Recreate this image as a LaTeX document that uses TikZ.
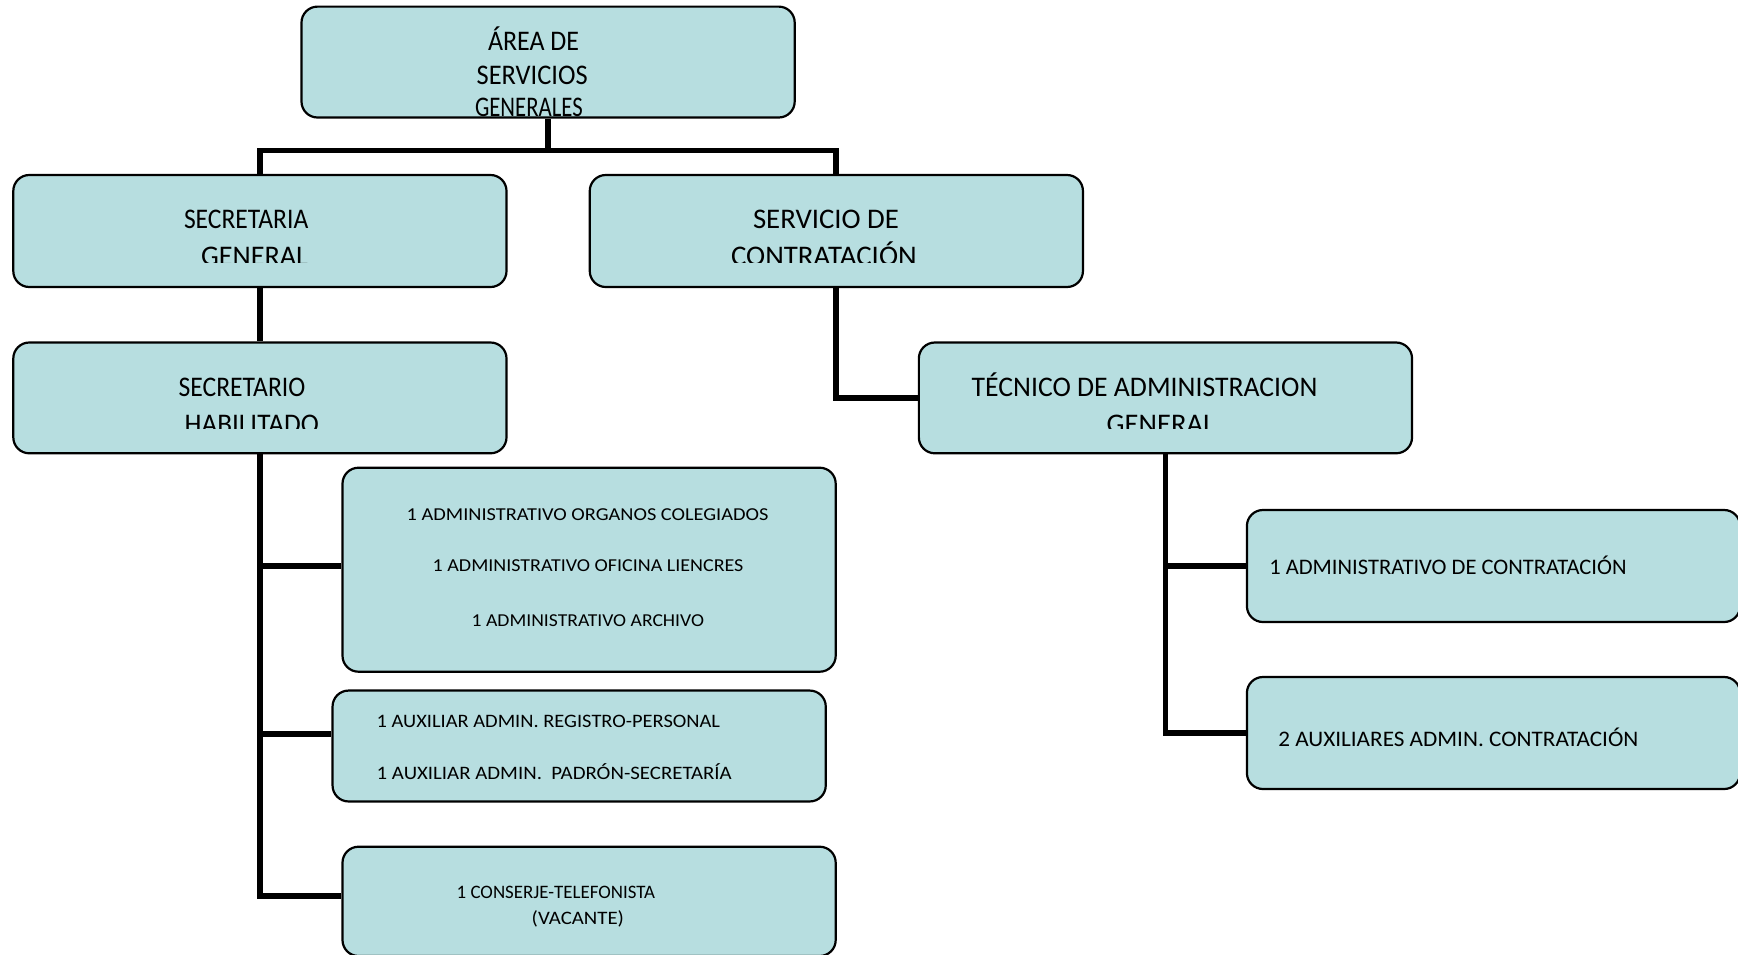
\documentclass[tikz,border=0pt]{standalone}
\usepackage{fontspec}
\setmainfont{Carlito}
\usepackage{graphicx}
\definecolor{boxfill}{RGB}{183,222,224}
\newcommand\hdrfont{\fontsize{14.2}{17}\selectfont}
\newcommand\smfont{\fontsize{9.1}{11}\selectfont}
\newcommand\mdfont{\fontsize{9.5}{11}\selectfont}
\newcommand\lgfont{\fontsize{11.1}{13}\selectfont}
\newcommand\fitw[2]{\resizebox{#1pt}{\height}{#2}}
\tikzset{
  orgbox/.style={draw=black, line width=1.1pt, fill=boxfill, rounded corners=8pt,
    minimum width=246.6pt, minimum height=55.5pt, inner sep=0pt},
  lbl/.style={anchor=base west, inner sep=0pt, outer sep=0pt, font=\hdrfont},
  link/.style={line width=2.9pt, draw=black},
}
\begin{document}
\begin{tikzpicture}[x=0.5pt, y=-0.5pt]
\useasboundingbox (0,0) rectangle (1738,954);
% connectors (drawn first, under the boxes)
\node[orgbox, minimum height=55.45pt] (top) at (548.1,62.05) {};
\node[orgbox, minimum height=56pt] (sg) at (259.9,231) {};
\node[orgbox, minimum height=56pt] (sc) at (836.35,231) {};
\node[orgbox, minimum height=55.4pt] (sh) at (259.9,397.9) {};
\node[orgbox, minimum height=55.4pt] (tag) at (1165.45,397.9) {};
\node[orgbox, minimum height=102pt] (adm) at (589.1,569.7) {};
\node[orgbox, minimum height=55.45pt] (aux) at (579.15,746) {};
\node[orgbox, minimum height=54.65pt] (con) at (589.1,901.35) {};
\node[orgbox, minimum height=56pt] (adc) at (1493.5,566) {};
\node[orgbox, minimum height=56pt] (aux2) at (1493.5,733) {};
\coordinate (bar) at (548.1,150.5);
\draw[link] (top.south) -- (top.south |- bar);
\draw[link] (sg.north) |- (bar) -| (sc.north);
\draw[link] (sg.south) -- (sh.north);
\draw[link] (sh.south) |- ([yshift=1.85pt]adm.west);
\draw[link] (sh.south) |- ([yshift=6pt]aux.west);
\draw[link] (sh.south) |- ([yshift=2.7pt]con.west);
\draw[link] (sc.south) |- (tag.west);
\draw[link] (tag.south) |- (adc.west);
\draw[link] (tag.south) |- (aux2.west);
% texts
\node[lbl] (a1) at (488,50.7) {\fitw{45.5}{ÁREA DE}};
\node[lbl] (a2) at (476.7,84) {\fitw{55.5}{SERVICIOS}};
\node[lbl] (a3) at (475,116.7) {\fitw{53.85}{GENERALES}};
\node[lbl] (b1) at (184,228.3) {\fitw{62.15}{SECRETARIA}};
\node[lbl] (c1) at (753,228.3) {\fitw{73}{SERVICIO DE}};
\node[lbl] (d1) at (178.6,396.7) {\fitw{63.4}{SECRETARIO}};
\node[lbl] (e1) at (971.7,396.7) {\fitw{172.85}{TÉCNICO DE ADMINISTRACION}};
\begin{scope}
  \clip (0,0) rectangle (1738,262.3);
  \node[lbl] (b2) at (201,265) {\fitw{53.5}{GENERAL}};
  \node[lbl] (c2) at (731,265) {\fitw{92.85}{CONTRATACIÓN}};
\end{scope}
\begin{scope}
  \clip (0,300) rectangle (1738,428.3);
  \node[lbl] (d2) at (184.6,433.3) {\fitw{67.15}{HABILITADO}};
  \node[lbl] (e2) at (1106.7,433.3) {\fitw{54.15}{GENERAL}};
\end{scope}
\node[lbl, font=\smfont] (f1) at (406.7,520) {\fitw{180.85}{1 ADMINISTRATIVO ORGANOS COLEGIADOS}};
\node[lbl, font=\smfont] (f2) at (432.7,571.7) {\fitw{155.35}{1 ADMINISTRATIVO OFICINA LIENCRES}};
\node[lbl, font=\smfont] (f3) at (471.7,626.7) {\fitw{116.15}{1 ADMINISTRATIVO ARCHIVO}};
\node[lbl, font=\mdfont] (g1) at (376.7,727.3) {\fitw{171.65}{1 AUXILIAR ADMIN. REGISTRO-PERSONAL}};
\node[lbl, font=\mdfont] (g2) at (376.7,779.3) {\fitw{177.5}{1 AUXILIAR ADMIN.\ \ PADRÓN-SECRETARÍA}};
\node[lbl, font=\mdfont] (h1) at (456.7,898.3) {\fitw{99.15}{1 CONSERJE-TELEFONISTA}};
\node[lbl, font=\mdfont] (h2) at (531.7,924) {\fitw{46.15}{(VACANTE)}};
\node[lbl, font=\lgfont] (i1) at (1269.3,574.3) {\fitw{178.65}{1 ADMINISTRATIVO DE CONTRATACIÓN}};
\node[lbl, font=\lgfont] (j1) at (1278.3,746.7) {\fitw{180}{2 AUXILIARES ADMIN. CONTRATACIÓN}};
\end{tikzpicture}
\end{document}
